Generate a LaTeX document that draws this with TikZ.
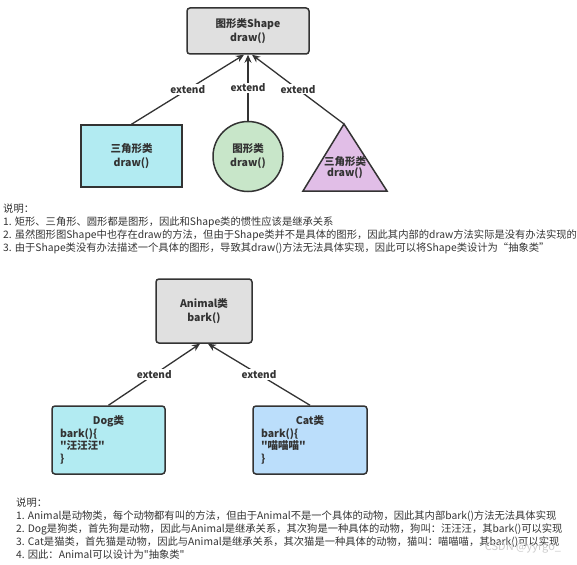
\documentclass[tikz,border=0pt]{standalone}
\usepackage{fontspec}
\setmainfont{Noto Sans CJK SC}[Ligatures=TeXOff]
\usetikzlibrary{arrows.meta}
\definecolor{ink}{HTML}{333333}
\definecolor{greyfill}{HTML}{E0E0E0}
\definecolor{cyanfill}{HTML}{B2EBF2}
\definecolor{greenfill}{HTML}{C8E6C9}
\definecolor{purplefill}{HTML}{E1BEE7}
\definecolor{bluefill}{HTML}{BBDEFB}
\begin{document}
\begin{tikzpicture}[x=1pt, y=-1pt,
  every node/.style={text=ink},
  cls/.style={draw=ink, line width=1.5pt, fill=greyfill, align=center,
    font=\bfseries\fontsize{10.5}{14}\selectfont},
  ext/.style={fill=white, inner sep=1pt, font=\bfseries\fontsize{10}{12}\selectfont},
  inh/.style={draw=ink, line width=1.3pt, -{Stealth[length=8pt, width=7pt]}},
  note/.style={anchor=north west, inner sep=0pt, align=left, font=\fontsize{10.3}{13}\selectfont}]
  \useasboundingbox (0,0) rectangle (577,564);
  % shapes
  \node[cls, rounded corners=3pt, minimum width=122pt, minimum height=46pt] (shape) at (248,31) {图形类Shape\\draw()};
  \node[cls, fill=cyanfill, minimum width=101pt, minimum height=62pt] (rect) at (131.5,156) {三角形类\\draw()};
  \node[cls, fill=greenfill, circle, minimum size=70pt, inner sep=0pt] (circ) at (248,156.5) {图形类\\draw()};
  \draw[draw=ink, line width=1.5pt, fill=purplefill] (303,191) -- (344,124) -- (387,191) -- cycle;
  \coordinate (tritop) at (344,124);
  \node[align=center, font=\bfseries\fontsize{10.5}{11}\selectfont, inner sep=0pt] (tri) at (345,167.5) {三角形类\\draw()};
  \draw[inh] (rect.north) -- node[ext] {extend} ([xshift=-4pt]shape.south);
  \draw[inh] (circ.north) -- node[ext] {extend} (shape.south);
  \draw[inh] (tritop) -- node[ext] {extend} ([xshift=4pt]shape.south);
  \node[note] (note1) at (3,204) {说明：\\
    1. 矩形、三角形、圆形都是图形，因此和Shape类的惯性应该是继承关系\\
    2. 虽然图形图Shape中也存在draw的方法，但由于Shape类并不是具体的图形，因此其内部的draw方法实际是没有办法实现的\\
    3. 由于Shape类没有办法描述一个具体的图形，导致其draw()方法无法具体实现，因此可以将Shape类设计为“抽象类”};
  % animals
  \node[cls, rounded corners=3pt, minimum width=96pt, minimum height=64pt] (animal) at (204,311) {Animal类\\bark()};
  \node[cls, fill=cyanfill, rounded corners=3pt, minimum width=113pt, minimum height=68pt, inner xsep=8pt, text width=97pt, align=left,
    font=\bfseries\fontsize{10.5}{12.7}\selectfont] (dog) at (108.5,440) {{\centering Dog类\par}bark()\{\\"汪汪汪"\\\}};
  \node[cls, fill=bluefill, rounded corners=3pt, minimum width=114pt, minimum height=68pt, inner xsep=8pt, text width=98pt, align=left,
    font=\bfseries\fontsize{10.5}{12.7}\selectfont] (cat) at (310,440) {{\centering Cat类\par}bark()\{\\"喵喵喵"\\\}};
  \draw[inh] (dog.north) -- node[ext] {extend} ([xshift=-4pt]animal.south);
  \draw[inh] (cat.north) -- node[ext] {extend} ([xshift=4pt]animal.south);
  \node[note] (note2) at (16,498) {说明：\\
    1. Animal是动物类，每个动物都有叫的方法，但由于Animal不是一个具体的动物，因此其内部bark()方法无法具体实现\\
    2. Dog是狗类，首先狗是动物，因此与Animal是继承关系，其次狗是一种具体的动物，狗叫：汪汪汪，其bark()可以实现\\
    3. Cat是猫类，首先猫是动物，因此与Animal是继承关系，其次猫是一种具体的动物，猫叫：喵喵喵，其bark()可以实现\\
    4. 因此：Animal可以设计为"抽象类"};
  \node[text=black!20, font=\fontsize{11}{13}\selectfont, inner sep=0pt] (mark) at (523,548) {CSDN @yyrgo\_};
\end{tikzpicture}
\end{document}
